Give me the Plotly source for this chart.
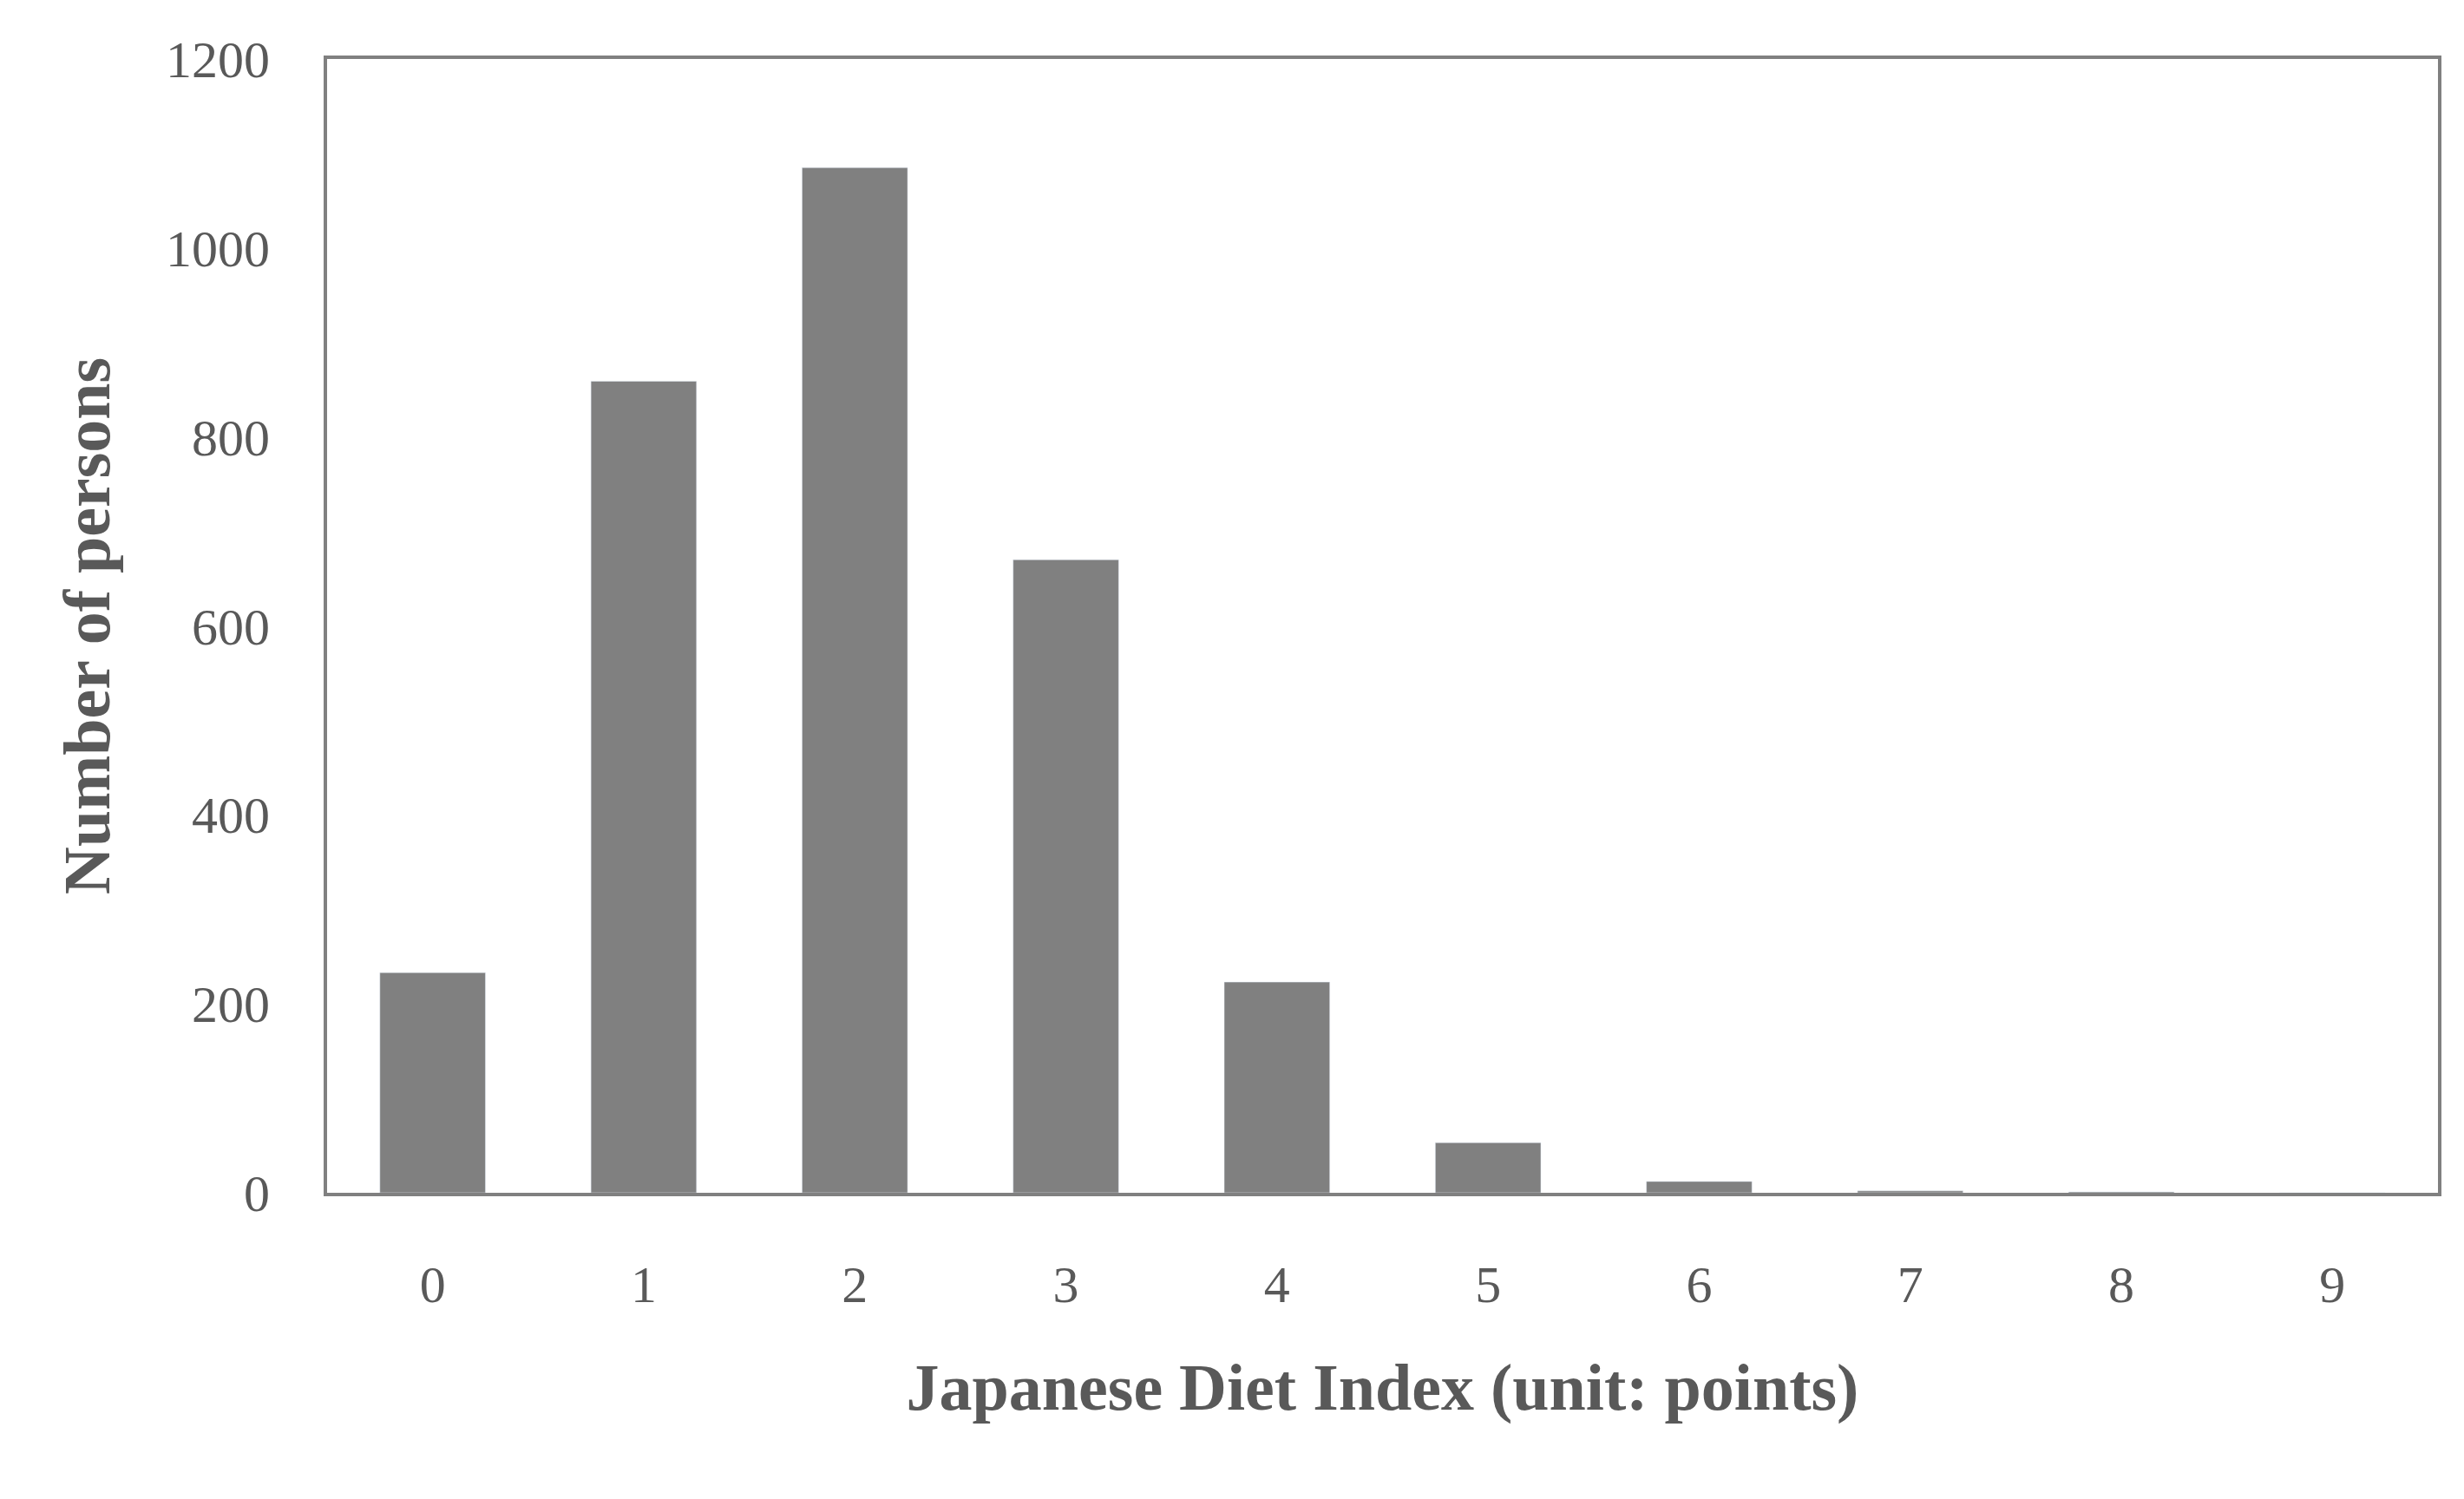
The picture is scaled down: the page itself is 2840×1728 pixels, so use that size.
import plotly.graph_objects as go

categories = ["0","1","2","3","4","5","6","7","8","9"]
persons = [233, 859, 1085, 670, 223, 53, 12, 2, 1, 0]

fig = go.Figure(go.Bar(x=categories, y=persons, marker_color="#808080", width=0.5))
fnt = dict(family="Liberation Serif", color="#595959")
fig.update_layout(
    width=2840, height=1728, plot_bgcolor="white", paper_bgcolor="white",
    margin=dict(l=369, r=38, t=60, b=361), showlegend=False,
    font=dict(**fnt, size=60),
)
fig.update_xaxes(showline=True, linecolor="#808080", linewidth=4, mirror=True,
                 ticks="", ticklabelstandoff=50,
                 title=dict(text="<b>Japanese Diet Index (unit: points)</b>", font=dict(**fnt, size=76), standoff=60))
fig.update_yaxes(range=[0,1200], dtick=200, showgrid=False, showline=True, linecolor="#808080",
                 linewidth=4, mirror=True, ticks="", ticklabelstandoff=50, zeroline=False,
                 title=dict(text="<b>Number of persons</b>", font=dict(**fnt, size=76), standoff=40))
fig.write_html("out.html")
